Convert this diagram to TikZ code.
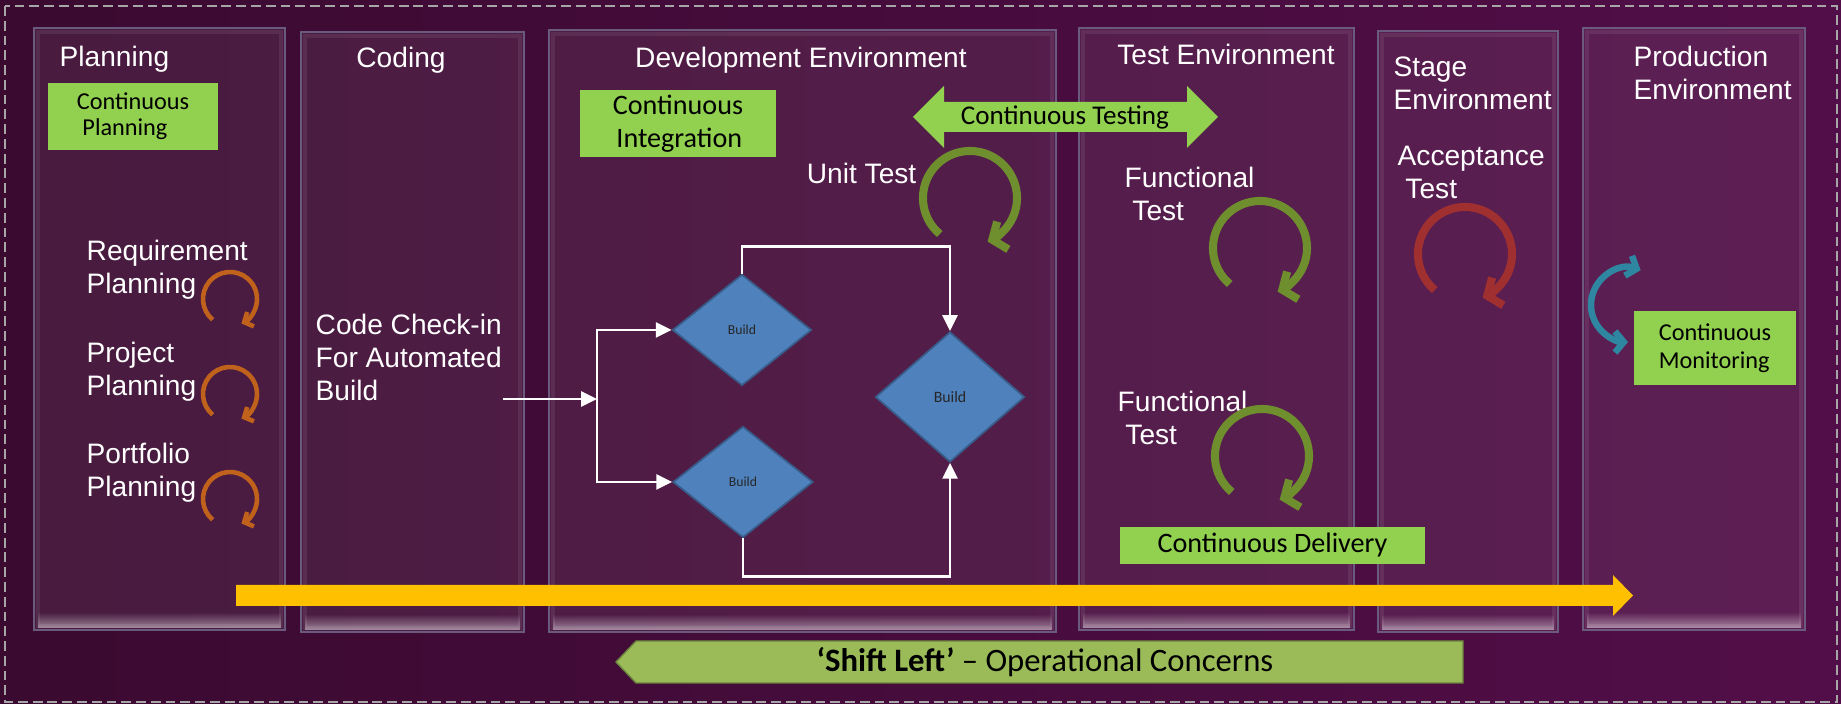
\documentclass[tikz,border=0pt]{standalone}
\usepackage{fontspec}
\setmainfont{Liberation Sans}
\newfontfamily\calibri{Carlito}
\usetikzlibrary{calc,arrows.meta,shapes.geometric,fadings}

\definecolor{bgleft}{HTML}{3A0A30}
\definecolor{bgright}{HTML}{520E48}
\definecolor{panelline}{HTML}{6A5A7E}
\definecolor{contgreen}{HTML}{92D050}
\definecolor{shiftgreen}{HTML}{9BBB59}
\definecolor{buildblue}{HTML}{4F81BD}
\definecolor{buildline}{HTML}{385D8A}
\definecolor{planorange}{HTML}{C0621C}
\definecolor{testgreen}{HTML}{6F8F2E}
\definecolor{acceptred}{HTML}{A03030}
\definecolor{monteal}{HTML}{2E86A0}
\definecolor{flowyellow}{HTML}{FFC000}

\tikzset{
    panel/.style={
    draw=panelline,line width=0.5pt,fill=white,fill opacity=0.07
    },
    rim/.style={
    draw=white,draw opacity=0.08,line width=1.2pt
    },
    bevel/.style={
    fill=white,fill opacity=0.45,path fading=north
    },
    headtxt/.style={
    text=white,font=\fontsize{8}{9.4}\selectfont,inner sep=0pt,align=left
    },
    greenbox/.style={
    rectangle,fill=contgreen,text=black,inner sep=0pt,align=left
    },
    build/.style={
    diamond,draw=buildline,fill=buildblue,line width=0.5pt,inner sep=0pt,text=black!85
    },
    flow/.style={
    draw=white,line width=0.63pt,-{Triangle[length=4.5pt,width=4.3pt]}
    },
    planloop/.style={
    draw=planorange,line width=1.3pt,-{Straight Barb[length=2pt,width=4.5pt]}
    },
    testloop/.style={
    line width=2.3pt,-{Straight Barb[length=3.2pt,width=8.5pt]}
    },
    monloop/.style={
    draw=monteal,line width=1.85pt,{Straight Barb[length=2.5pt,width=6pt]}-{Straight Barb[length=2.5pt,width=6pt]}
    },
}

\begin{document}
\begin{tikzpicture}[x=0.01cm, y=-0.01cm]
   \useasboundingbox (0,0) rectangle (1841,704);
   \shade[left color=bgleft, right color=bgright] (0,0) rectangle (1841,704);
   \draw[gray!70, line width=0.45pt, dash pattern=on 2.8pt off 1.4pt] (5,6) rectangle (1837,702);

   %panels
   \draw[panel] (34,28) rectangle (285,630);
   \draw[rim] (38,32) rectangle (281,626);
   \fill[bevel] (38,612) rectangle (281,628);
   \draw[panel] (301,32) rectangle (524,632);
   \draw[rim] (305,36) rectangle (520,628);
   \fill[bevel] (305,614) rectangle (520,630);
   \draw[panel] (549,30) rectangle (1056,632);
   \draw[rim] (553,34) rectangle (1052,628);
   \fill[bevel] (553,614) rectangle (1052,630);
   \draw[panel] (1079,28) rectangle (1354,630);
   \draw[rim] (1083,32) rectangle (1350,626);
   \fill[bevel] (1083,612) rectangle (1350,628);
   \draw[panel] (1378,31) rectangle (1558,632);
   \draw[rim] (1382,35) rectangle (1554,628);
   \fill[bevel] (1382,614) rectangle (1554,630);
   \draw[panel] (1583,28) rectangle (1805,630);
   \draw[rim] (1587,32) rectangle (1801,626);
   \fill[bevel] (1587,612) rectangle (1801,628);

   %titles (base = last line)
   \node[headtxt, anchor=base west] (plan) at (59,67) {Planning};
   \node[headtxt, anchor=base] (code) at (401,68) {Coding};
   \node[headtxt, anchor=base] (dev) at (801,68) {Development Environment};
   \node[headtxt, anchor=base] (test) at (1226,65) {Test Environment};
   \node[headtxt, anchor=base west] (stage) at (1393,110) {Stage\\Environment};
   \node[headtxt, anchor=base west] (prod) at (1633,100) {Production\\Environment};

   %planning
   \node[greenbox, minimum width=1.7cm, minimum height=0.67cm, font=\calibri\fontsize{6.9}{7.4}\selectfont] (cplan) at (133,116.5) {Continuous\\\hspace*{1.6pt}Planning};
   \node[headtxt, anchor=base west] (req) at (86,294) {Requirement\\Planning};
   \node[headtxt, anchor=base west] (proj) at (86,396) {Project\\Planning};
   \node[headtxt, anchor=base west] (port) at (86,497) {Portfolio\\Planning};
   \coordinate (reqc) at (230,299);
   \coordinate (projc) at (230,394);
   \coordinate (portc) at (230,499);
   \draw[planloop] ($(reqc)+(230:2.7mm)$) arc[start angle=230, end angle=-65, radius=2.7mm];
   \draw[planloop] ($(projc)+(230:2.7mm)$) arc[start angle=230, end angle=-65, radius=2.7mm];
   \draw[planloop] ($(portc)+(230:2.7mm)$) arc[start angle=230, end angle=-65, radius=2.7mm];

   %coding
   \node[headtxt, anchor=base west] (chk) at (315,401) {Code Check-in\\For Automated\\Build};

   %development
   \node[greenbox, minimum width=1.96cm, minimum height=0.67cm, font=\calibri\fontsize{8}{9.4}\selectfont] (cint) at (678,123.5) {Continuous\\\hspace*{1pt}Integration};
   \node[headtxt, anchor=base east] (unit) at (917,184) {Unit Test};
   \coordinate (unitc) at (970,198);
   \draw[testloop, draw=testgreen] ($(unitc)+(230:4.7mm)$) arc[start angle=230, end angle=-68, radius=4.7mm];

   \node[build, minimum width=1.39cm, minimum height=1.11cm, font=\calibri\fontsize{3.9}{4.5}\selectfont] (b1) at (742,330) {Build};
   \node[build, minimum width=1.40cm, minimum height=1.11cm, font=\calibri\fontsize{3.9}{4.5}\selectfont] (b2) at (743,482) {Build};
   \node[build, minimum width=1.49cm, minimum height=1.30cm, font=\calibri\fontsize{4.5}{5.2}\selectfont] (b3) at (950,397) {Build};
   \coordinate (cin) at (503,399);
   \coordinate (split) at (597,399);
   \draw[flow] (cin) -- (split);
   \draw[flow] (split) |- (b1.west);
   \draw[flow] (split) |- (b2.west);
   \draw[flow] (b1.north) -- ++(0,-27) -| (b3.north);
   \draw[flow] (b2.south) -- ++(0,38) -| (b3.south);

   %continuous testing
   \fill[contgreen] (913,117) -- (944,86) -- (944,102) -- (1187,102) -- (1187,86) -- (1218,117)
       -- (1187,148) -- (1187,132) -- (944,132) -- (944,148) -- cycle;
   \node[font=\calibri\fontsize{7.7}{9}\selectfont, anchor=base, inner sep=0pt] (ctest) at (1065,125) {Continuous Testing};

   %test
   \node[headtxt, anchor=base west] (func1) at (1124,221) {Functional\\\hspace*{2.2pt}Test};
   \node[headtxt, anchor=base west] (func2) at (1117,445) {Functional\\\hspace*{2.2pt}Test};
   \coordinate (func1c) at (1260,248);
   \coordinate (func2c) at (1262,456);
   \draw[testloop, draw=testgreen] ($(func1c)+(230:4.7mm)$) arc[start angle=230, end angle=-68, radius=4.7mm];
   \draw[testloop, draw=testgreen] ($(func2c)+(230:4.7mm)$) arc[start angle=230, end angle=-68, radius=4.7mm];
   \node[greenbox, minimum width=3.05cm, minimum height=0.37cm, font=\calibri\fontsize{8}{9.4}\selectfont] (cdel) at (1272.5,545.5) {Continuous Delivery};

   %stage
   \node[headtxt, anchor=base west] (acc) at (1397,199) {Acceptance\\\hspace*{2.2pt}Test};
   \coordinate (accc) at (1465,254);
   \draw[testloop, draw=acceptred] ($(accc)+(230:4.7mm)$) arc[start angle=230, end angle=-68, radius=4.7mm];

   %production
   \node[greenbox, minimum width=1.62cm, minimum height=0.74cm, font=\calibri\fontsize{6.9}{8}\selectfont] (cmon) at (1715,348) {Continuous\\Monitoring};
   \coordinate (monc) at (1628,305);
   \draw[monloop] ($(monc)+(70:3.7mm)$) arc[start angle=70, end angle=270, radius=3.7mm];

   %flow to production
   \fill[flowyellow] (236,585) -- (1613,585) -- (1613,575) -- (1633,595.5) -- (1613,616) -- (1613,606) -- (236,606) -- cycle;

   %shift left
   \filldraw[fill=shiftgreen, draw=shiftgreen!70!black, line width=0.4pt] (616,662) -- (636,641) -- (1463,641) -- (1463,683) -- (636,683) -- cycle;
   \node[font=\calibri\fontsize{9.3}{11}\selectfont, anchor=base, inner sep=0pt] (shift) at (1045,672) {\textbf{‘Shift Left’} – Operational Concerns};
\end{tikzpicture}
\end{document}
